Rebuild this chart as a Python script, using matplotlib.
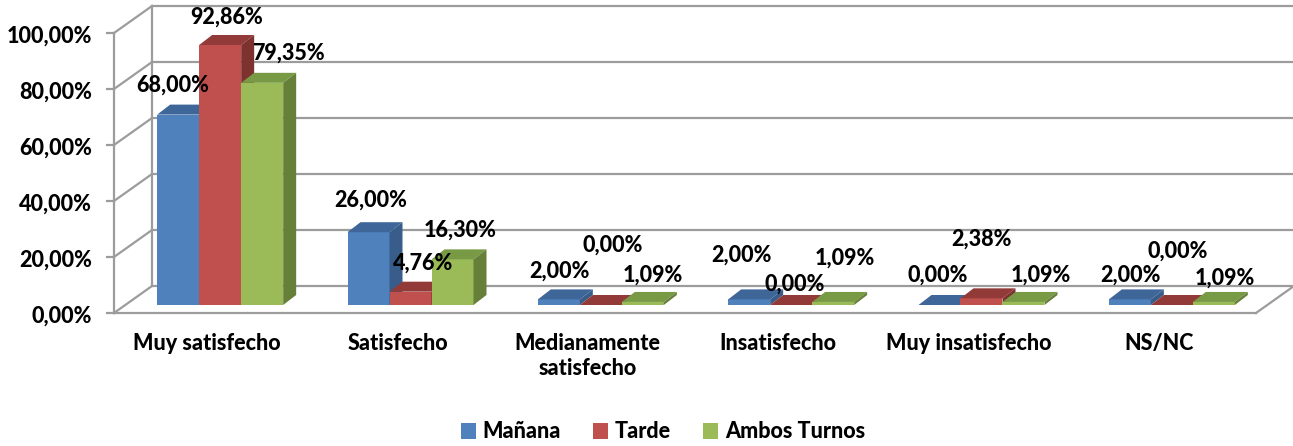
import matplotlib
matplotlib.use('Agg')
import matplotlib.pyplot as plt
from matplotlib.patches import Polygon, Patch

# ---------------- data ----------------
categories = ['Muy satisfecho', 'Satisfecho', 'Medianamente\nsatisfecho',
              'Insatisfecho', 'Muy insatisfecho', 'NS/NC']
series_names = ['Mañana', 'Tarde', 'Ambos Turnos']
manana = [68.00, 26.00, 2.00, 2.00, 0.00, 2.00]
tarde = [92.86, 4.76, 0.00, 0.00, 2.38, 0.00]
ambos = [79.35, 16.30, 1.09, 1.09, 1.09, 1.09]
yticks = [0, 20, 40, 60, 80, 100]

# label placement tweaks (pixels) - layout only
label_lift = [[29, 28, 30], [32, 29, 29], [28, 60, 27],
              [44, 21, 44], [30, 59, 27], [24, 54, 24]]
label_dx = [[-11, 0, 20], [-4, 7, 2], [-5, 6, 4],
            [-14, -2, 6], [-8, -6, 11], [-5, 0, 5]]

# ---------------- style ----------------
front_cols = ['#4F81BD', '#C0504D', '#9BBB59']
top_cols = ['#3E6699', '#923A38', '#789A44']
side_cols = ['#385D8A', '#7E3230', '#66803A']
grid_col = '#9C9C9C'
font = dict(family='Lato', weight='black', size=15.5)

W, H = 1293, 446
fig = plt.figure(figsize=(W / 100, H / 100), dpi=100)
ax_left, ax_right, ax_bottom, ax_top = 114, 1256, 313, 33
ax = fig.add_axes([ax_left / W, (H - ax_bottom) / H,
                   (ax_right - ax_left) / W, (ax_bottom - ax_top) / H])
ncat = len(categories)
ax.set_xlim(-0.5, ncat - 0.5)
ax.set_ylim(0, 100)
ax.axis('off')

PX = (ax_right - ax_left) / ncat      # pixels per category
PY = (ax_bottom - ax_top) / 100.0     # pixels per percent

Dx, Dy = 38 / PX, 27 / PY             # full depth of the chart
bfx, bfy = 11 / PX, 8 / PY            # bar front-face depth
ddx, ddy = 13 / PX, 10 / PY           # bar own depth

# walls / gridlines
lw = 1.6
for t in yticks:
    ax.plot([-0.5, -0.5 + Dx], [t, t + Dy], color=grid_col, lw=lw, clip_on=False, zorder=1)
    ax.plot([-0.5 + Dx, ncat - 0.5 + Dx + 0.01], [t + Dy, t + Dy], color=grid_col, lw=lw,
            clip_on=False, zorder=1)
    ax.plot([-0.5 - 7 / PX, -0.5], [t, t], color=grid_col, lw=lw, clip_on=False, zorder=1)
    ax.text(-0.5 - 22 / PX, t - 1.0, f"{t:.2f}".replace('.', ',') + '%', ha='right', va='center',
            **font)
ax.plot([-0.5 + Dx, -0.5 + Dx], [Dy, 100 + Dy], color=grid_col, lw=lw, clip_on=False, zorder=1)
ax.plot([-0.5, -0.5], [0, 100], color=grid_col, lw=lw, clip_on=False, zorder=1)
ax.plot([-0.5, ncat - 0.5], [0, 0], color=grid_col, lw=lw, clip_on=False, zorder=1)
ax.plot([ncat - 0.5, ncat - 0.5 + Dx], [0, Dy], color=grid_col, lw=lw, clip_on=False, zorder=1)

# bars
values = [manana, tarde, ambos]
w = 42 / PX
for i in range(ncat):
    for j in range(3):
        v = values[j][i]
        x0 = i - 1.5 * w + j * w + bfx
        x1 = x0 + w
        y0 = bfy
        y1 = v + bfy
        z = 3 + i * 3 + j
        ax.add_patch(Polygon([(x0, y0), (x1, y0), (x1, y1), (x0, y1)], closed=True,
                             fc=front_cols[j], ec='none', clip_on=False, zorder=z))
        ax.add_patch(Polygon([(x0, y1), (x1, y1), (x1 + ddx, y1 + ddy), (x0 + ddx, y1 + ddy)],
                             closed=True, fc=top_cols[j], ec='none', clip_on=False, zorder=z))
        ax.add_patch(Polygon([(x1, y0), (x1 + ddx, y0 + ddy), (x1 + ddx, y1 + ddy), (x1, y1)],
                             closed=True, fc=side_cols[j], ec='none', clip_on=False, zorder=z))
        ax.annotate(f"{v:.2f}".replace('.', ',') + '%', xy=(x0 + w / 2, y1),
                    xytext=(6 + label_dx[i][j], label_lift[i][j]), textcoords='offset pixels',
                    ha='center', va='center', zorder=50, annotation_clip=False, **font)

# category labels
for i, c in enumerate(categories):
    ax.text(i - 2 / PX, -20 / PY, c, ha='center', va='top', linespacing=1.25, **font)

# legend
handles = [Patch(fc=c, ec='none') for c in front_cols]
fig.legend(handles, series_names, loc='center', bbox_to_anchor=(663 / W, 1 - 432 / H), ncol=3,
           frameon=False, handlelength=0.7, handleheight=0.7, handletextpad=0.3,
           columnspacing=1.5, prop=dict(family='Lato', weight='black', size=15.5))

fig.savefig('out.png', dpi=100)
